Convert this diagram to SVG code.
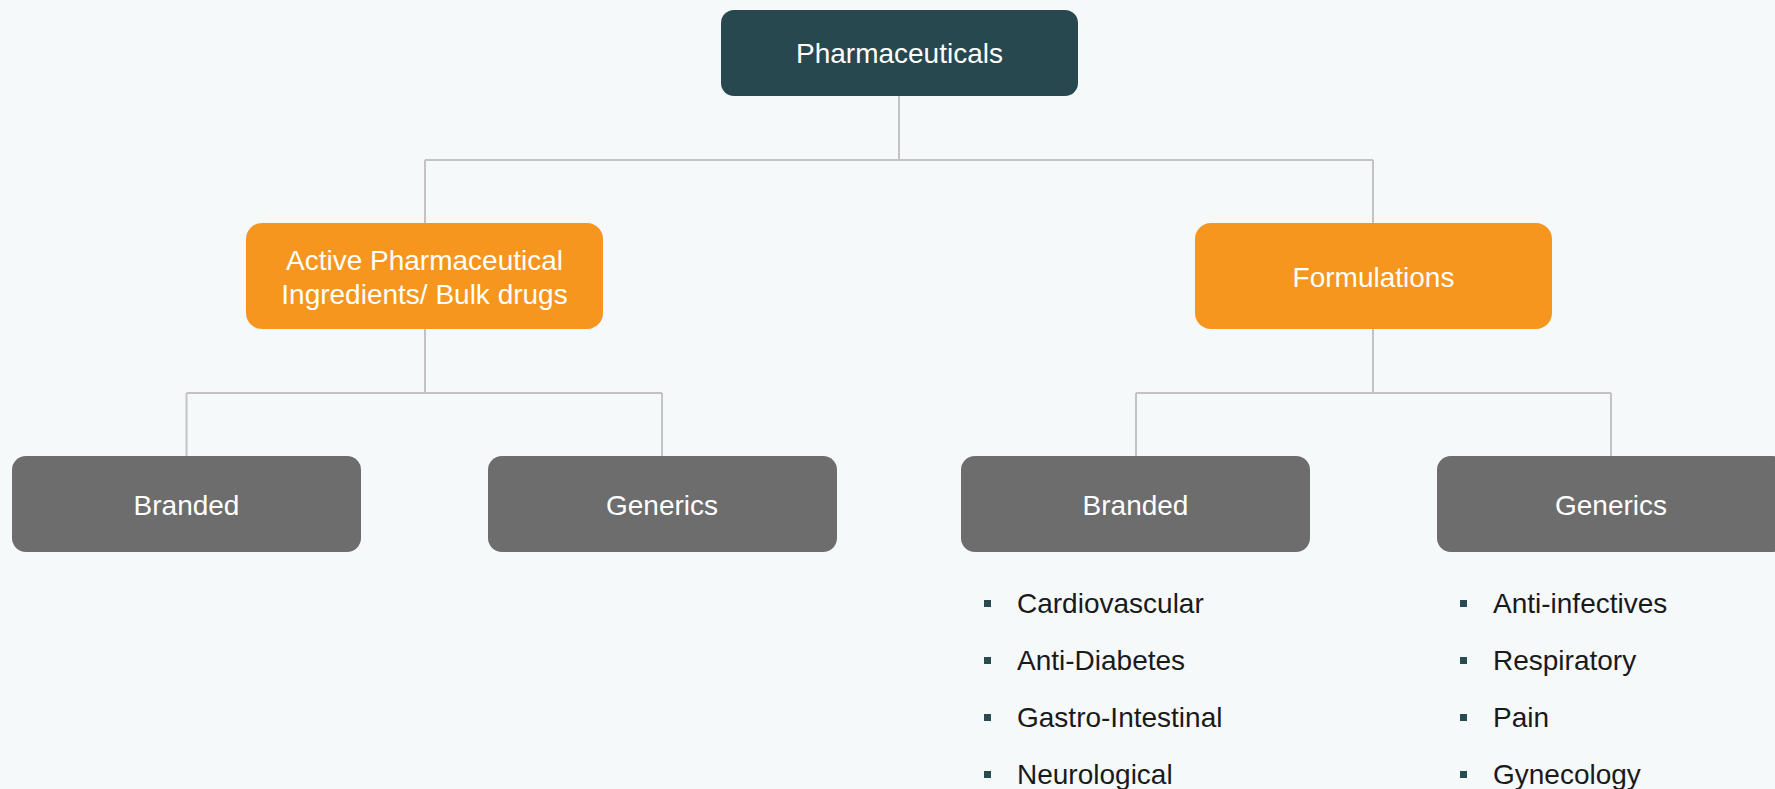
<svg xmlns="http://www.w3.org/2000/svg" width="1775" height="789" viewBox="0 0 1775 789">
<style>
.lbl{font-family:"Liberation Sans",Arial,sans-serif;font-size:28px;fill:#ffffff;text-anchor:middle}
.item{font-family:"Liberation Sans",Arial,sans-serif;font-size:28px;fill:#1a1a1a}
.conn{stroke:#c3c3c3;stroke-width:2;fill:none}
.bul{fill:#2a4a52}
</style>
<rect width="1775" height="789" fill="#f5f9fa"/>
<g id="connectors">
<path class="conn" d="M899 96V160M425 160H1373M425 160V223M1373 160V223"/>
<path class="conn" d="M425 329V393M186.5 393H662M186.5 393V456M662 393V456"/>
<path class="conn" d="M1373 329V393M1136 393H1611M1136 393V456M1611 393V456"/>
</g>
<g id="pharmaceuticals">
<rect x="721" y="10" width="357" height="86" rx="13" fill="#284850"/>
<text class="lbl" x="899.5" y="63">Pharmaceuticals</text>
</g>
<g id="api">
<rect x="246" y="223" width="357" height="106" rx="16" fill="#f7961e"/>
<text class="lbl" x="424.5" y="270">Active Pharmaceutical</text>
<text class="lbl" x="424.5" y="304">Ingredients/ Bulk drugs</text>
</g>
<g id="formulations">
<rect x="1195" y="223" width="357" height="106" rx="16" fill="#f7961e"/>
<text class="lbl" x="1373.5" y="287">Formulations</text>
</g>
<g id="api-branded">
<rect x="12" y="456" width="349" height="96" rx="14" fill="#6d6d6d"/>
<text class="lbl" x="186.5" y="515">Branded</text>
</g>
<g id="api-generics">
<rect x="488" y="456" width="349" height="96" rx="14" fill="#6d6d6d"/>
<text class="lbl" x="662" y="515">Generics</text>
</g>
<g id="form-branded">
<rect x="961" y="456" width="349" height="96" rx="14" fill="#6d6d6d"/>
<text class="lbl" x="1135.5" y="515">Branded</text>
</g>
<g id="form-generics">
<rect x="1437" y="456" width="349" height="96" rx="14" fill="#6d6d6d"/>
<text class="lbl" x="1611" y="515">Generics</text>
</g>
<g id="branded-list">
<rect class="bul" x="984" y="600" width="7" height="7"/>
<text class="item" x="1017" y="613">Cardiovascular</text>
<rect class="bul" x="984" y="657" width="7" height="7"/>
<text class="item" x="1017" y="670">Anti-Diabetes</text>
<rect class="bul" x="984" y="714" width="7" height="7"/>
<text class="item" x="1017" y="727">Gastro-Intestinal</text>
<rect class="bul" x="984" y="771" width="7" height="7"/>
<text class="item" x="1017" y="784">Neurological</text>
</g>
<g id="generics-list">
<rect class="bul" x="1460" y="600" width="7" height="7"/>
<text class="item" x="1493" y="613">Anti-infectives</text>
<rect class="bul" x="1460" y="657" width="7" height="7"/>
<text class="item" x="1493" y="670">Respiratory</text>
<rect class="bul" x="1460" y="714" width="7" height="7"/>
<text class="item" x="1493" y="727">Pain</text>
<rect class="bul" x="1460" y="771" width="7" height="7"/>
<text class="item" x="1493" y="784">Gynecology</text>
</g>
</svg>
